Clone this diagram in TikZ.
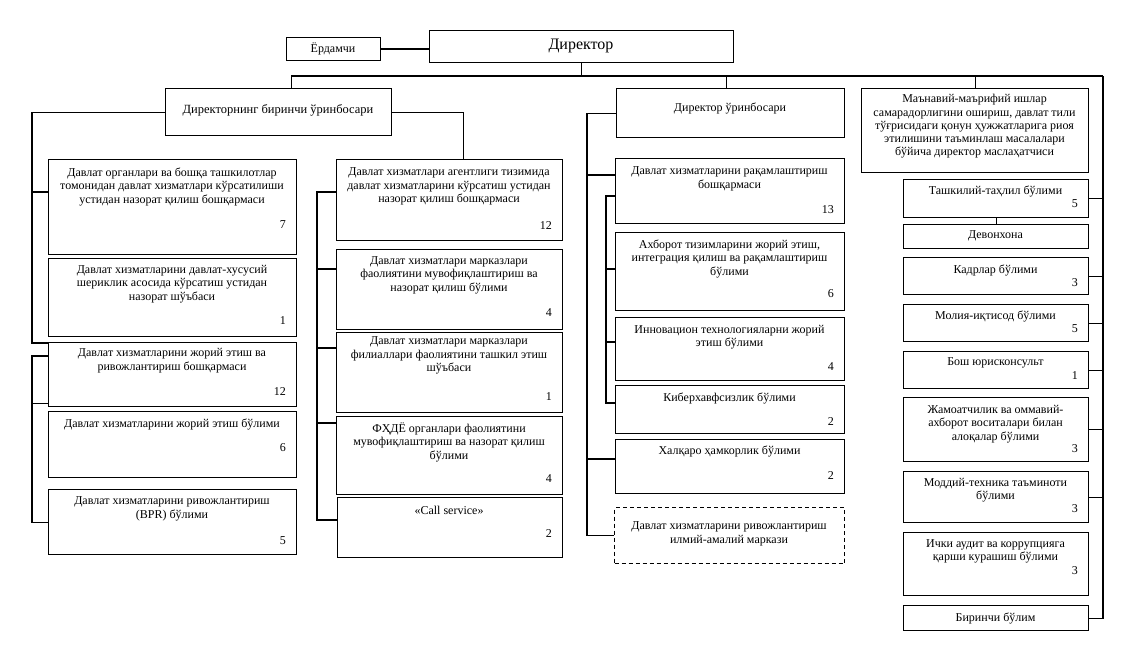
\documentclass[tikz,border=0pt]{standalone}
\usepackage{fontspec}
\setmainfont{Liberation Serif}
\usetikzlibrary{positioning,calc}

\begin{document}
\begin{tikzpicture}[x=1pt, y=-1pt,
    box/.style={draw, line width=1.2pt, inner sep=0pt, anchor=north west},
    dbox/.style={box, dash pattern=on 4pt off 3pt},
    txt/.style={align=center, inner sep=0pt, font=\fontsize{12}{13.5}\selectfont},
    num/.style={anchor=east, inner sep=0pt, font=\fontsize{12}{13.5}\selectfont},
    link/.style={line width=1.2pt}]
    \useasboundingbox (0,0) rectangle (1134,661);

    % top
    \node[box, minimum width=94, minimum height=23] (erd) at (286,37) {};
    \node[txt] (erd-t) at (333,48.5) {Ёрдамчи};
    \node[box, minimum width=304, minimum height=32] (dir) at (429,30) {};
    \node[txt, font=\fontsize{16}{18}\selectfont] (dir-t) at (581,46) {Директор};
    \draw[link] (erd.east) -- (erd.east -| dir.west);
    \coordinate (busR) at (1103,76);
    \draw[link] (dir.south) -- (dir.south |- busR);

    % first deputy
    \node[box, minimum width=226, minimum height=47] (d1) at (165,88) {};
    \node[txt, font=\fontsize{12.5}{14}\selectfont] (d1-t) at (278,110) {Директорнинг биринчи ўринбосари};
    \draw[link] ([xshift=13pt]d1.north) |- (busR);

    % left column
    \node[box, minimum width=248, minimum height=95] (davorg) at (48,159) {};
    \node[txt] (davorg-t) at (172,186.5) {Давлат органлари ва бошқа ташкилотлар\\томонидан давлат хизматлари кўрсатилиши\\устидан назорат қилиш бошқармаси};
    \node[num] (davorg-n) at (286,225) {7};
    \node[box, minimum width=248, minimum height=78] (shirik) at (48,258) {};
    \node[txt] (shirik-t) at (172,284) {Давлат хизматларини давлат-хусусий\\шериклик асосида кўрсатиш устидан\\назорат шўъбаси};
    \node[num] (shirik-n) at (286,321) {1};
    \node[box, minimum width=248, minimum height=64] (joriy) at (48,342) {};
    \node[txt] (joriy-t) at (172,360.5) {Давлат хизматларини жорий этиш ва\\ривожлантириш бошқармаси};
    \node[num] (joriy-n) at (286,392) {12};
    \node[box, minimum width=248, minimum height=66] (jorbul) at (48,411) {};
    \node[txt] (jorbul-t) at (172,424) {Давлат хизматларини жорий этиш бўлими};
    \node[num] (jorbul-n) at (286,448) {6};
    \node[box, minimum width=248, minimum height=65] (bpr) at (48,489) {};
    \node[txt] (bpr-t) at (172,509) {Давлат хизматларини ривожлантириш\\(BPR) бўлими};
    \node[num] (bpr-n) at (286,541) {5};

    \coordinate (lbar) at (32,0);
    \draw[link] (d1.west) -| ([yshift=-1pt]lbar |- joriy.north west) -- ([yshift=-1pt]joriy.north west);
    \draw[link] ([yshift=-33pt]davorg.north west) -- ++(-16,0);
    \draw[link] ([yshift=-14pt]joriy.north west) -| (lbar |- bpr.west) -- (bpr.west);
    \draw[link] ([yshift=4pt]joriy.south west) -- ++(-16,0);

    % middle column
    \node[box, minimum width=226, minimum height=81] (agent) at (336,159) {};
    \node[txt] (agent-t) at (449,186.5) {Давлат хизматлари агентлиги тизимида\\давлат хизматларини кўрсатиш устидан\\назорат қилиш бошқармаси};
    \node[num] (agent-n) at (552,226) {12};
    \node[box, minimum width=226, minimum height=80] (markaz) at (336,249) {};
    \node[txt] (markaz-t) at (449,275) {Давлат хизматлари марказлари\\фаолиятини мувофиқлаштириш ва\\назорат қилиш бўлими};
    \node[num] (markaz-n) at (552,313) {4};
    \node[box, minimum width=226, minimum height=80] (filial) at (336,332) {};
    \node[txt] (filial-t) at (449,355.5) {Давлат хизматлари марказлари\\филиаллари фаолиятини ташкил этиш\\шўъбаси};
    \node[num] (filial-n) at (552,397) {1};
    \node[box, minimum width=226, minimum height=78] (fhdyo) at (336,416) {};
    \node[txt] (fhdyo-t) at (449,442) {ФҲДЁ органлари фаолиятини\\мувофиқлаштириш ва назорат қилиш\\бўлими};
    \node[num] (fhdyo-n) at (552,479) {4};
    \node[box, minimum width=225, minimum height=60] (call) at (337,497) {};
    \node[txt] (call-t) at (449,510) {«Call service»};
    \node[num] (call-n) at (552,534) {2};

    \coordinate (mbar) at (317,0);
    \draw[link] (d1.east) -| ([xshift=14pt]agent.north);
    \draw[link] ([yshift=-33pt]agent.north west) -| ([yshift=-23pt]mbar |- call.north west) -- ([yshift=-23pt]call.north west);
    \draw[link] ([yshift=-20pt]markaz.north west) -- ++(-19,0);
    \draw[link] ([yshift=-16pt]filial.north west) -- ++(-19,0);
    \draw[link] ([yshift=-7pt]fhdyo.north west) -- ++(-19,0);

    % deputy
    \node[box, minimum width=228, minimum height=49] (dep) at (616,88) {};
    \node[txt] (dep-t) at (730,108) {Директор ўринбосари};
    \draw[link] ([xshift=-4pt]dep.north) -- ([xshift=-4pt]dep.north |- busR);

    \node[box, minimum width=229, minimum height=65] (raqam) at (615,158) {};
    \node[txt] (raqam-t) at (729.5,179) {Давлат хизматларини рақамлаштириш\\бошқармаси};
    \node[num] (raqam-n) at (834,210) {13};
    \node[box, minimum width=229, minimum height=78] (axborot) at (615,232) {};
    \node[txt] (axborot-t) at (729.5,258.5) {Ахборот тизимларини жорий этиш,\\интеграция қилиш ва рақамлаштириш\\бўлими};
    \node[num] (axborot-n) at (834,294) {6};
    \node[box, minimum width=229, minimum height=63] (innov) at (615,317) {};
    \node[txt] (innov-t) at (729.5,337) {Инновацион технологияларни жорий\\этиш бўлими};
    \node[num] (innov-n) at (834,367) {4};
    \node[box, minimum width=229, minimum height=48] (kiber) at (615,385) {};
    \node[txt] (kiber-t) at (729.5,398) {Киберхавфсизлик бўлими};
    \node[num] (kiber-n) at (834,422) {2};
    \node[box, minimum width=229, minimum height=54] (xalqaro) at (615,439) {};
    \node[txt] (xalqaro-t) at (729.5,451) {Халқаро ҳамкорлик бўлими};
    \node[num] (xalqaro-n) at (834,476) {2};
    \node[dbox, minimum width=230, minimum height=56] (ilmiy) at (614,507) {};
    \node[txt] (ilmiy-t) at (729,534) {Давлат хизматларини ривожлантириш\\илмий-амалий маркази};

    \coordinate (rbar) at (587,0);
    \draw[link] (dep.west) -| (rbar |- ilmiy.west) -- (ilmiy.west);
    \draw[link] ([yshift=-17pt]raqam.north west) -- ++(-28,0);
    \draw[link] ([yshift=-20pt]xalqaro.north west) -- ++(-28,0);
    \draw[link] ([yshift=-38pt]raqam.north west) -- ++(-9,0) |- ([yshift=-18pt]kiber.north west);
    \draw[link] ([yshift=-37pt]axborot.north west) -- ++(-9,0);
    \draw[link] ([yshift=-25pt]innov.north west) -- ++(-9,0);

    % advisor
    \node[box, minimum width=227, minimum height=84] (adv) at (861,88) {};
    \node[txt, font=\fontsize{12}{13.25}\selectfont] (adv-t) at (974.5,126.5) {Маънавий-маърифий ишлар\\самарадорлигини ошириш, давлат тили\\тўғрисидаги қонун ҳужжатларига риоя\\этилишини таъминлаш масалалари\\бўйича директор маслаҳатчиси};
    \draw[link] (adv.north) -- (adv.north |- busR);

    % right column
    \node[box, minimum width=185, minimum height=38] (tashkil) at (903,179) {};
    \node[txt] (tashkil-t) at (995.5,191) {Ташкилий-таҳлил бўлими};
    \node[num] (tashkil-n) at (1078,204) {5};
    \node[box, minimum width=185, minimum height=24] (devon) at (903,224) {};
    \node[txt] (devon-t) at (995.5,236) {Девонхона};
    \node[box, minimum width=185, minimum height=37] (kadr) at (903,257) {};
    \node[txt] (kadr-t) at (995.5,270) {Кадрлар бўлими};
    \node[num] (kadr-n) at (1078,283) {3};
    \node[box, minimum width=185, minimum height=37] (moliya) at (903,304) {};
    \node[txt] (moliya-t) at (995.5,316) {Молия-иқтисод бўлими};
    \node[num] (moliya-n) at (1078,329) {5};
    \node[box, minimum width=185, minimum height=37] (yurist) at (903,351) {};
    \node[txt] (yurist-t) at (995.5,363) {Бош юрисконсульт};
    \node[num] (yurist-n) at (1078,376) {1};
    \node[box, minimum width=185, minimum height=64] (ommav) at (903,397) {};
    \node[txt] (ommav-t) at (995.5,424) {Жамоатчилик ва оммавий-\\ахборот воситалари билан\\алоқалар бўлими};
    \node[num] (ommav-n) at (1078,449) {3};
    \node[box, minimum width=185, minimum height=51] (moddiy) at (903,471) {};
    \node[txt] (moddiy-t) at (995.5,490) {Моддий-техника таъминоти\\бўлими};
    \node[num] (moddiy-n) at (1078,509) {3};
    \node[box, minimum width=185, minimum height=63] (audit) at (903,532) {};
    \node[txt] (audit-t) at (995.5,551.5) {Ички аудит ва коррупцияга\\қарши курашиш бўлими};
    \node[num] (audit-n) at (1078,571) {3};
    \node[box, minimum width=185, minimum height=25] (birinchi) at (903,605) {};
    \node[txt] (birinchi-t) at (995.5,618) {Биринчи бўлим};

    \draw[link] (busR) -- (busR |- birinchi.east) -- (birinchi.east);
    \draw[link] (tashkil.south) -- (devon.north);
    \foreach \u in {tashkil,kadr,moliya,yurist,ommav,moddiy}
        \draw[link] (\u.east) -- (\u.east -| busR);
\end{tikzpicture}
\end{document}
